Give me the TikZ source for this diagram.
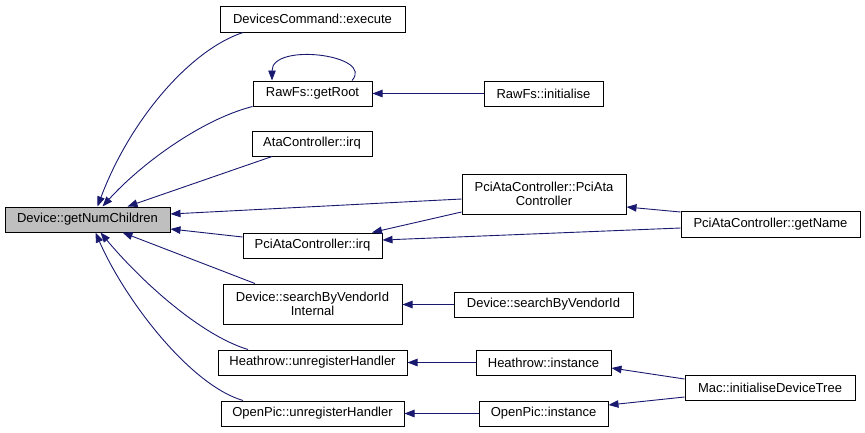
\documentclass[tikz,border=0pt]{standalone}
\usepackage{fontspec}
\setmainfont{Liberation Sans}
\usetikzlibrary{arrows.meta}
\definecolor{edgeblue}{HTML}{191970}
\definecolor{mainfill}{HTML}{BFBFBF}
\tikzset{
  fbox/.style={draw=black, line width=1pt, fill=white, inner sep=0pt, align=center,
    font=\fontsize{13}{14}\selectfont},
  mainbox/.style={fbox, fill=mainfill},
  calls/.style={draw=edgeblue, line width=0.9pt, -{Triangle[length=10pt,width=7.5pt]}},
}
\begin{document}
\begin{tikzpicture}[x=1pt,y=-1pt]
\useasboundingbox (0,0) rectangle (865,432);
% nodes
\node[mainbox, minimum width=165pt, minimum height=25pt] (gnc) at (87.5,219.5) {Device::getNumChildren};
\node[fbox, minimum width=185pt, minimum height=26pt] (dc) at (312.5,19) {DevicesCommand::execute};
\node[fbox, minimum width=119pt, minimum height=25pt] (root) at (312.5,93.5) {RawFs::getRoot};
\node[fbox, minimum width=120pt, minimum height=25pt] (ata) at (312,143.5) {AtaController::irq};
\node[fbox, minimum width=139pt, minimum height=25pt] (pirq) at (312.5,245.5) {PciAtaController::irq};
\node[fbox, minimum width=179pt, minimum height=40pt] (sbvi) at (312.5,304) {Device::searchByVendorId\\Internal};
\node[fbox, minimum width=189pt, minimum height=25pt] (hun) at (312.5,362.5) {Heathrow::unregisterHandler};
\node[fbox, minimum width=183pt, minimum height=25pt] (oun) at (312.5,413.5) {OpenPic::unregisterHandler};
\node[fbox, minimum width=119pt, minimum height=25pt] (rinit) at (543.5,93.5) {RawFs::initialise};
\node[fbox, minimum width=164pt, minimum height=40pt] (pctor) at (544,194) {PciAtaController::PciAta\\Controller};
\node[fbox, minimum width=179pt, minimum height=25pt] (sbv) at (543.5,304.5) {Device::searchByVendorId};
\node[fbox, minimum width=135pt, minimum height=25pt] (hin) at (543.5,362.5) {Heathrow::instance};
\node[fbox, minimum width=129pt, minimum height=25pt] (oin) at (543.5,413.5) {OpenPic::instance};
\node[fbox, minimum width=179pt, minimum height=26pt] (gname) at (770.5,224) {PciAtaController::getName};
\node[fbox, minimum width=170pt, minimum height=25pt] (mac) at (770,387.5) {Mac::initialiseDeviceTree};
% edges into Device::getNumChildren
\draw[calls] ([xshift=-69.5pt]dc.south) .. controls (190,50) and (130,120) .. ([xshift=10pt]gnc.north);
\draw[calls] (root.south west) .. controls (200,120) and (140,165) .. ([xshift=15pt]gnc.north);
\draw[calls] ([xshift=-40pt]ata.south) -- ([xshift=40pt]gnc.north);
\draw[calls] ([yshift=-5pt]pctor.west) -- ([yshift=5.5pt]gnc.east);
\draw[calls] ([yshift=8.5pt]pirq.west) -- ([yshift=-9.5pt]gnc.east);
\draw[calls] ([xshift=-57.5pt]sbvi.north) -- ([xshift=35pt]gnc.south);
\draw[calls] ([xshift=-64.5pt]hun.north) .. controls (200,335) and (140,280) .. ([xshift=13pt]gnc.south);
\draw[calls] ([xshift=-69.5pt]oun.north) .. controls (190,385) and (125,300) .. ([xshift=8pt]gnc.south);
% self loop
\draw[calls] ([xshift=39.5pt]root.north) .. controls (375,55) and (272,42) .. ([xshift=-40.5pt]root.north);
% other edges
\draw[calls] (rinit.west) -- (root.east);
\draw[calls] ([yshift=12pt]gname.west) -- ([yshift=-13pt]pctor.east);
\draw[calls] ([yshift=-4pt]gname.west) -- ([yshift=5.5pt]pirq.east);
\draw[calls] ([yshift=-18pt]pctor.west) -- ([xshift=59.5pt]pirq.north);
\draw[calls] (sbv.west) -- (sbvi.east |- sbv.west);
\draw[calls] (hin.west) -- (hun.east);
\draw[calls] (oin.west) -- (oun.east);
\draw[calls] ([yshift=8.5pt]mac.west) -- ([yshift=-5.5pt]hin.east);
\draw[calls] ([yshift=-9.5pt]mac.west) -- ([yshift=8.5pt]oin.east);
\end{tikzpicture}
\end{document}
